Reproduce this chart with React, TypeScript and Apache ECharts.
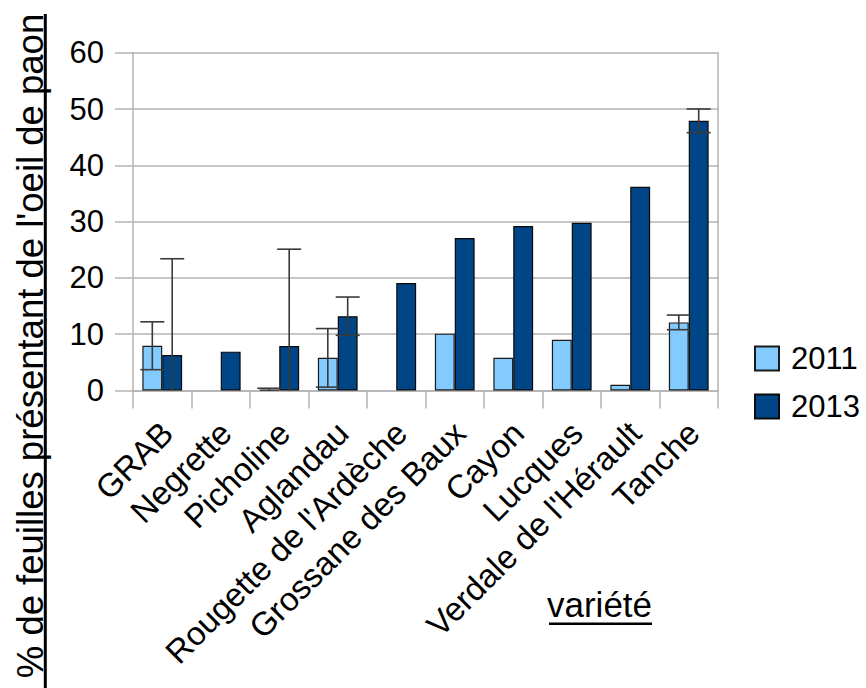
import React, { useEffect, useRef } from "react";
import * as echarts from "echarts";

const categories = [
  "GRAB",
  "Negrette",
  "Picholine",
  "Aglandau",
  "Rougette de l'Ardèche",
  "Grossane des Baux",
  "Cayon",
  "Lucques",
  "Verdale de l'Hérault",
  "Tanche",
];
const values2011: (number | null)[] = [7.95, null, 0.1, 5.8, null, 10.1, 5.8, 9.0, 1.0, 12.1];
const errors2011: (number | null)[] = [4.25, null, 0.3, 5.2, null, null, null, null, null, 1.3];
const values2013: (number | null)[] = [6.3, 6.9, 7.9, 13.2, 19.1, 27.1, 29.2, 29.8, 36.2, 47.9];
const errors2013: (number | null)[] = [17.1, null, 17.2, 3.4, null, null, null, null, null, 2.1];
const yTicks = { min: 0, max: 60, interval: 10 };
const yTitle = "% de feuilles présentant de l'oeil de paon";
const xTitle = "variété";
const seriesNames = ["2011", "2013"];

const FONT = "Liberation Sans, Arial, sans-serif";
const GRID_GREY = "#b3b3b3";
const CAT_GAP = 0.32;

function errorData(values: (number | null)[], errors: (number | null)[]) {
  const out: number[][] = [];
  values.forEach((v, i) => {
    const e = errors[i];
    if (v != null && e != null) out.push([i, v, e]);
  });
  return out;
}

function makeErrorRender(side: number) {
  return (params: any, api: any) => {
    const i = api.value(0);
    const v = api.value(1);
    const e = api.value(2);
    const band = api.size([1, 0])[0];
    const bw = (band * (1 - CAT_GAP)) / 2;
    const off = (side * bw) / 2;
    const hi = api.coord([i, v + e]);
    const lowVal = v - e;
    const lo = api.coord([i, Math.max(0, lowVal)]);
    const x = hi[0] + off;
    const capHalf = 12;
    const style = { stroke: "#3a3a3a", lineWidth: 1.6 };
    const children: any[] = [
      { type: "line", shape: { x1: x, y1: hi[1], x2: x, y2: lo[1] }, style },
      { type: "line", shape: { x1: x - capHalf, y1: hi[1], x2: x + capHalf, y2: hi[1] }, style },
    ];
    if (lowVal >= 0) {
      children.push({
        type: "line",
        shape: { x1: x - capHalf, y1: lo[1], x2: x + capHalf, y2: lo[1] },
        style,
      });
    }
    return { type: "group", children };
  };
}

export default function App() {
  const ref = useRef<HTMLDivElement>(null);
  useEffect(() => {
    if (!ref.current) return;
    const chart = echarts.init(ref.current, undefined, { renderer: "svg" });
    chart.setOption({
      animation: false,
      backgroundColor: "#ffffff",
      textStyle: { fontFamily: FONT },
      grid: { left: 133, right: 148, top: 52.7, bottom: 297.5, containLabel: false },
      legend: {
        data: seriesNames,
        orient: "vertical",
        left: 754,
        top: 343,
        padding: 0,
        itemWidth: 24,
        itemHeight: 24,
        itemGap: 17,
        icon: "rect",
        textStyle: { fontSize: 31, color: "#000", fontFamily: FONT, padding: [0, 0, 0, 7] },
      },
      xAxis: {
        type: "category",
        data: categories,
        boundaryGap: true,
        axisLine: { show: true, lineStyle: { color: GRID_GREY, width: 1.5 } },
        axisTick: { show: true, length: 18, interval: 0, lineStyle: { color: GRID_GREY, width: 1.5 } },
        axisLabel: {
          interval: 0,
          rotate: 45,
          fontSize: 33,
          lineHeight: 14,
          color: "#000",
          fontFamily: FONT,
          verticalAlign: "top",
          margin: 32,
        },
        splitLine: { show: false },
      },
      yAxis: [
        {
          type: "value",
          min: yTicks.min,
          max: yTicks.max,
          interval: yTicks.interval,
          axisLine: { show: true, lineStyle: { color: GRID_GREY, width: 1.5 } },
          axisTick: { show: true, length: 18, lineStyle: { color: GRID_GREY, width: 1.5 } },
          axisLabel: { fontSize: 31, color: "#000", fontFamily: FONT, margin: 29 },
          splitLine: { show: true, lineStyle: { color: GRID_GREY, width: 1.5 } },
        },
        {
          type: "value",
          position: "right",
          min: yTicks.min,
          max: yTicks.max,
          interval: yTicks.interval,
          axisLine: { show: true, lineStyle: { color: GRID_GREY, width: 1.5 } },
          axisTick: { show: false },
          axisLabel: { show: false },
          splitLine: { show: false },
        },
      ],
      series: [
        {
          name: seriesNames[0],
          type: "bar",
          data: values2011,
          barGap: "0%",
          barCategoryGap: CAT_GAP * 100 + "%",
          itemStyle: { color: "#83caff", borderColor: "#1a1a1a", borderWidth: 1.2 },
        },
        {
          name: seriesNames[1],
          type: "bar",
          data: values2013,
          barGap: "0%",
          barCategoryGap: CAT_GAP * 100 + "%",
          itemStyle: { color: "#004586", borderColor: "#0a0a0a", borderWidth: 1.2 },
        },
        {
          name: "err2011",
          type: "custom",
          data: errorData(values2011, errors2011),
          encode: { x: 0, y: 1 },
          renderItem: makeErrorRender(-1),
          z: 5,
        },
        {
          name: "err2013",
          type: "custom",
          data: errorData(values2013, errors2013),
          encode: { x: 0, y: 1 },
          renderItem: makeErrorRender(1),
          z: 5,
        },
      ],
      graphic: [
        {
          type: "text",
          x: 30.5,
          y: 346,
          rotation: Math.PI / 2,
          style: {
            text: yTitle,
            font: `36.5px ${FONT}`,
            fill: "#000",
            align: "center",
            verticalAlign: "middle",
          },
        },
        {
          type: "line",
          shape: { x1: 45.3, y1: 14, x2: 45.3, y2: 688 },
          style: { stroke: "#000", lineWidth: 3 },
        },
        {
          type: "text",
          x: 547,
          y: 604,
          style: {
            text: xTitle,
            font: `35px ${FONT}`,
            fill: "#000",
            align: "left",
            verticalAlign: "middle",
          },
        },
        {
          type: "line",
          shape: { x1: 549, y1: 623.8, x2: 652, y2: 623.8 },
          style: { stroke: "#000", lineWidth: 2.6 },
        },
      ],
    });
    return () => chart.dispose();
  }, []);
  return (
    <div
      ref={ref}
      style={{ position: "fixed", left: 0, top: 0, width: 866, height: 688, background: "#fff" }}
    />
  );
}
